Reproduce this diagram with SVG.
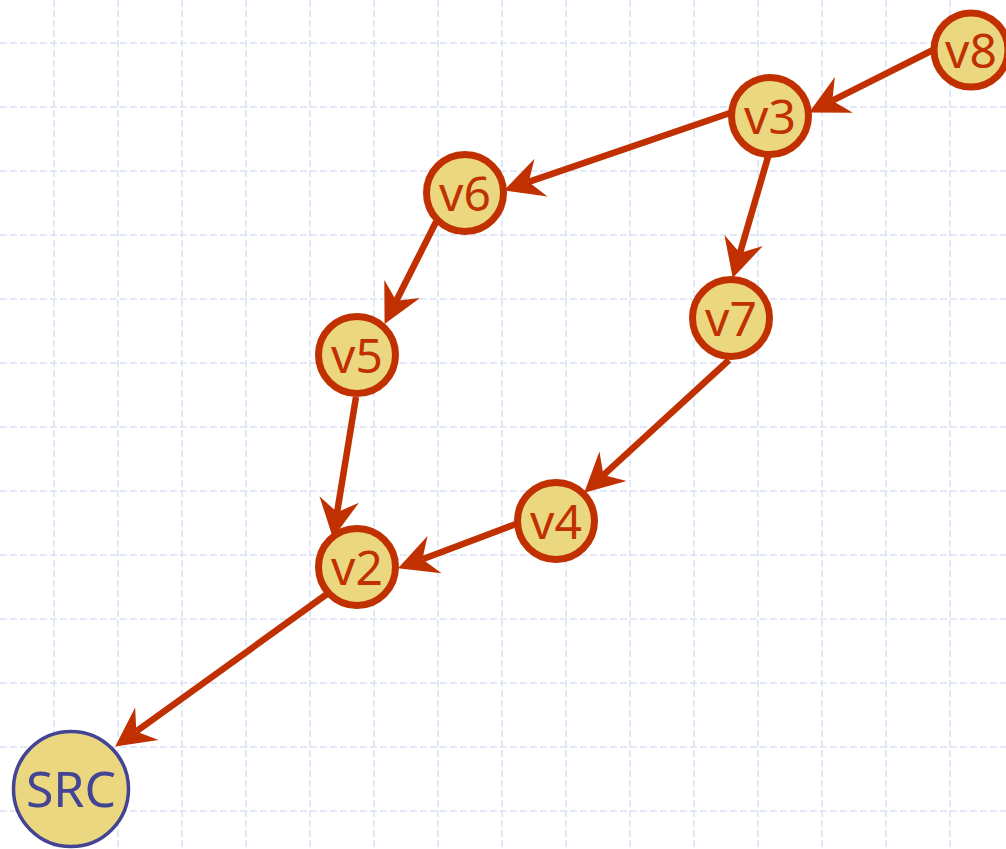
<svg xmlns="http://www.w3.org/2000/svg" width="1006" height="849" viewBox="0 0 1006 849">
<style>
.grid line{stroke:#d9e1f7;stroke-width:1.5;stroke-dasharray:7 3}
.node circle{fill:#ecd781;stroke:#c03000;stroke-width:7}
.node text{font-family:"Noto Sans","DejaVu Sans",sans-serif;font-size:48px;fill:#c03000;text-anchor:middle}
#SRC circle{stroke:#444494;stroke-width:3.5}
#SRC text{fill:#444494;font-size:50px}
.edges line{stroke:#c03000;stroke-width:6.5;marker-end:url(#arr)}
</style>
<defs>
<marker id="arr" markerUnits="userSpaceOnUse" markerWidth="44" markerHeight="44" viewBox="0 -22 44 44" refX="13" refY="0" orient="auto" overflow="visible">
<path d="M39,0 L0,-20 L13,0 L0,20 Z" fill="#c03000"/>
</marker>
</defs>
<rect width="1006" height="849" fill="#ffffff"/>
<g class="grid">
<line x1="54" y1="0" x2="54" y2="849"/><line x1="118" y1="0" x2="118" y2="849"/><line x1="182" y1="0" x2="182" y2="849"/><line x1="246" y1="0" x2="246" y2="849"/><line x1="310" y1="0" x2="310" y2="849"/><line x1="374" y1="0" x2="374" y2="849"/><line x1="438" y1="0" x2="438" y2="849"/><line x1="502" y1="0" x2="502" y2="849"/><line x1="566" y1="0" x2="566" y2="849"/><line x1="630" y1="0" x2="630" y2="849"/><line x1="694" y1="0" x2="694" y2="849"/><line x1="758" y1="0" x2="758" y2="849"/><line x1="822" y1="0" x2="822" y2="849"/><line x1="886" y1="0" x2="886" y2="849"/><line x1="950" y1="0" x2="950" y2="849"/>
<line x1="0" y1="43" x2="1006" y2="43"/><line x1="0" y1="107" x2="1006" y2="107"/><line x1="0" y1="171" x2="1006" y2="171"/><line x1="0" y1="235" x2="1006" y2="235"/><line x1="0" y1="299" x2="1006" y2="299"/><line x1="0" y1="363" x2="1006" y2="363"/><line x1="0" y1="427" x2="1006" y2="427"/><line x1="0" y1="491" x2="1006" y2="491"/><line x1="0" y1="555" x2="1006" y2="555"/><line x1="0" y1="619" x2="1006" y2="619"/><line x1="0" y1="683" x2="1006" y2="683"/><line x1="0" y1="747" x2="1006" y2="747"/><line x1="0" y1="811" x2="1006" y2="811"/>
</g>
<g class="edges">
<line x1="933" y1="50" x2="832.3" y2="100.7"/>
<line x1="730" y1="113" x2="528.7" y2="181.9"/>
<line x1="768" y1="157" x2="740" y2="253"/>
<line x1="436" y1="222" x2="396.3" y2="300.7"/>
<line x1="729" y1="360" x2="603.4" y2="475.1"/>
<line x1="356" y1="397" x2="337.1" y2="512.3"/>
<line x1="516" y1="524" x2="422.4" y2="559.2"/>
<line x1="327" y1="594" x2="136.3" y2="731.4"/>
</g>
<g id="v8" class="node"><circle cx="971" cy="50" r="37"/><text x="971" y="68">v8</text></g>
<g id="v3" class="node"><circle cx="770" cy="116" r="38.5"/><text x="770" y="134">v3</text></g>
<g id="v6" class="node"><circle cx="465" cy="193" r="38.5"/><text x="465" y="211">v6</text></g>
<g id="v5" class="node"><circle cx="357" cy="355" r="38.5"/><text x="357" y="373">v5</text></g>
<g id="v7" class="node"><circle cx="731" cy="318" r="38.5"/><text x="731" y="336">v7</text></g>
<g id="v4" class="node"><circle cx="556" cy="521" r="38.5"/><text x="556" y="539">v4</text></g>
<g id="v2" class="node"><circle cx="357" cy="567" r="38.5"/><text x="357" y="585">v2</text></g>
<g id="SRC" class="node"><circle cx="71" cy="789" r="57.5"/><text x="71" y="807">SRC</text></g>
</svg>
